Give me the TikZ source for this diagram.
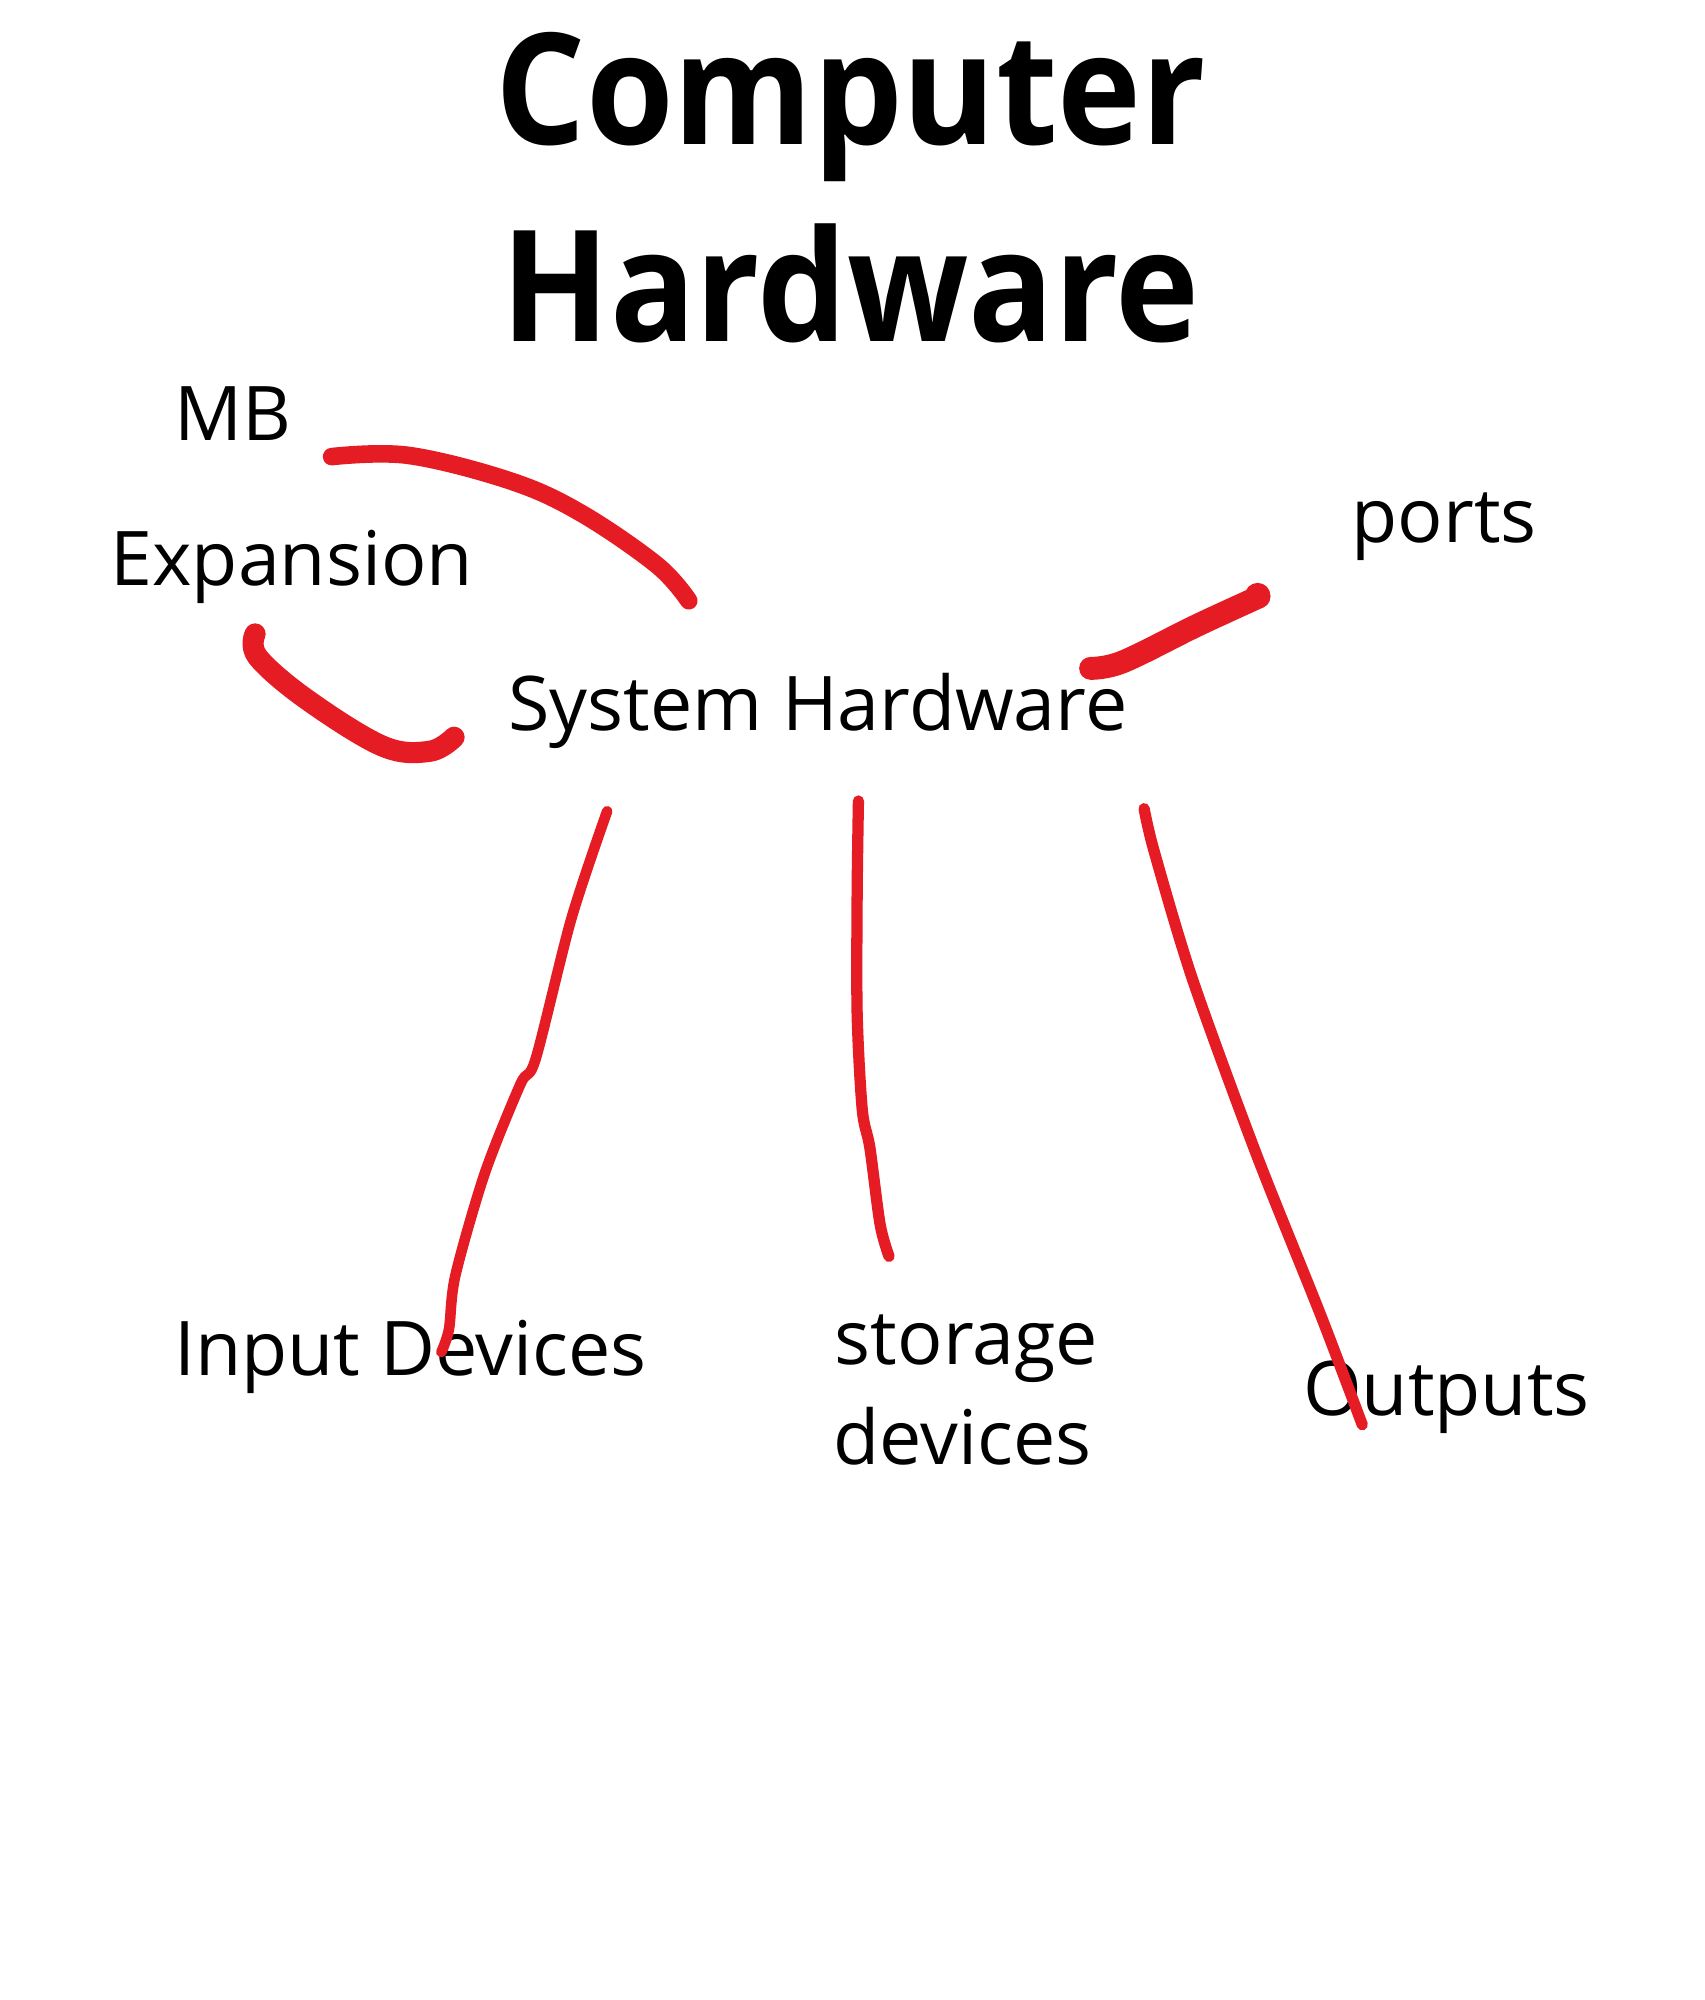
\documentclass[tikz,border=0pt]{standalone}
\usepackage{fontspec}
\setmainfont{Open Sans}
\newcommand{\hsq}[1]{\scalebox{0.915}[1]{#1}}
\begin{document}
\begin{tikzpicture}[x=0.012725cm,y=-0.012725cm,
  lbl/.style={anchor=base west,inner sep=0pt,font=\fontsize{21.4}{26}\selectfont},
  ttl/.style={anchor=base,inner sep=0pt,font=\fontsize{44}{50}\selectfont\bfseries},
  stroke/.style={draw=redpen,line cap=round,line join=round}]
\definecolor{redpen}{HTML}{E61C24}
\fill[white] (0,0) rectangle (1336,1568);
\useasboundingbox (0,0) rectangle (1336,1568);
% title
\node[ttl] (t1) at (667,113) {\hsq{Computer}};
\node[ttl] (t2) at (667,268) {\hsq{Hardware}};
% labels
\node[lbl] (mb) at (136,345) {MB};
\node[lbl] (exp) at (86,459) {Expansion};
\node[lbl] (ports) at (1059,425) {ports};
\node[lbl] (sys) at (398,573) {System Hardware};
\node[lbl] (inp) at (136,1078) {Input Devices};
\node[lbl] (sto) at (654,1070) {storage};
\node[lbl] (dev) at (653,1148) {devices};
\node[lbl] (out) at (1021,1110) {Outputs};
% red strokes
\draw[stroke,line width=5pt] plot[smooth,tension=0.6] coordinates
  {(260,358) (320,357) (400,377) (455,402) (515,443) (540,471)};
\draw[stroke,line width=6pt] plot[smooth,tension=0.6] coordinates
  {(200,497) (202,515) (240,548) (300,585) (337,589) (356,578)};
\draw[stroke,line width=6.5pt] plot[smooth,tension=0.6] coordinates
  {(855,524) (880,519) (935,492) (965,478) (987,468)};
\fill[redpen] (986,467) circle (10);
\draw[stroke,line width=3pt] plot[smooth,tension=0.5] coordinates
  {(476,636) (448,720) (420,830) (408,850) (380,920) (357,1000) (352,1042) (346,1060)};
\draw[stroke,line width=3.2pt] plot[smooth,tension=0.5] coordinates
  {(673,628) (672,700) (672,795) (676,870) (682,900) (690,960) (697,985)};
\draw[stroke,line width=3.2pt] plot[smooth,tension=0.5] coordinates
  {(897,634) (905,668) (935,768) (985,905) (1035,1030) (1068,1117)};
\end{tikzpicture}
\end{document}
